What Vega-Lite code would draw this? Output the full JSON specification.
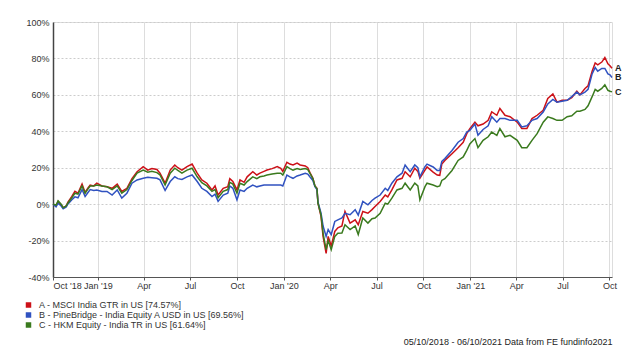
{
  "$schema": "https://vega.github.io/schema/vega-lite/v6.json",
  "width": 559,
  "height": 255,
  "autosize": "none",
  "padding": {"left": 53, "top": 22, "right": 28, "bottom": 83},
  "background": "white",
  "config": {"view": {"stroke": "#dddddd"}, "font": "Liberation Sans"},
  "data": {
    "format": {"parse": {"d": "date:'%Y-%m-%d'"}},
    "values": [
      {"d": "2018-10-05", "A": 0, "B": 0, "C": 0},
      {"d": "2018-10-11", "A": -1, "B": -1.5, "C": -0.5},
      {"d": "2018-10-15", "A": 1.5, "B": 0.5, "C": 1.8},
      {"d": "2018-10-21", "A": -0.5, "B": -1, "C": 0},
      {"d": "2018-10-25", "A": -2, "B": -2.5, "C": -2},
      {"d": "2018-10-31", "A": -1, "B": -1.5, "C": -1},
      {"d": "2018-11-03", "A": 1, "B": 0, "C": 0.5},
      {"d": "2018-11-11", "A": 4.2, "B": 2.4, "C": 3.5},
      {"d": "2018-11-17", "A": 7, "B": 4, "C": 6},
      {"d": "2018-11-23", "A": 6, "B": 3.5, "C": 5.5},
      {"d": "2018-12-01", "A": 11, "B": 8, "C": 10},
      {"d": "2018-12-07", "A": 6.4, "B": 4.2, "C": 6},
      {"d": "2018-12-13", "A": 9, "B": 6.5, "C": 8.5},
      {"d": "2018-12-17", "A": 10.5, "B": 8, "C": 10},
      {"d": "2018-12-24", "A": 10, "B": 7.5, "C": 10},
      {"d": "2018-12-30", "A": 11.5, "B": 7.8, "C": 10.5},
      {"d": "2019-01-09", "A": 10, "B": 7, "C": 10},
      {"d": "2019-01-19", "A": 9.6, "B": 7, "C": 9.5},
      {"d": "2019-01-29", "A": 8.7, "B": 5, "C": 8},
      {"d": "2019-02-08", "A": 11, "B": 7.8, "C": 10},
      {"d": "2019-02-17", "A": 7, "B": 3.3, "C": 6},
      {"d": "2019-02-27", "A": 8.7, "B": 6, "C": 8},
      {"d": "2019-03-09", "A": 14, "B": 11.5, "C": 13},
      {"d": "2019-03-19", "A": 17.8, "B": 13.3, "C": 17},
      {"d": "2019-03-31", "A": 20.6, "B": 14.2, "C": 18.7},
      {"d": "2019-04-09", "A": 18.7, "B": 14.7, "C": 17.5},
      {"d": "2019-04-17", "A": 19.5, "B": 14.5, "C": 18},
      {"d": "2019-04-27", "A": 19, "B": 14.2, "C": 17.3},
      {"d": "2019-05-03", "A": 17, "B": 13.3, "C": 16},
      {"d": "2019-05-13", "A": 11.5, "B": 7.5, "C": 10.5},
      {"d": "2019-05-23", "A": 18.7, "B": 12.4, "C": 17},
      {"d": "2019-06-01", "A": 21.5, "B": 15, "C": 19.7},
      {"d": "2019-06-07", "A": 20, "B": 14, "C": 18.5},
      {"d": "2019-06-15", "A": 18.7, "B": 13.6, "C": 17},
      {"d": "2019-06-25", "A": 20.6, "B": 15, "C": 18.7},
      {"d": "2019-07-05", "A": 22, "B": 16, "C": 19.7},
      {"d": "2019-07-15", "A": 17, "B": 12.4, "C": 15},
      {"d": "2019-07-24", "A": 13.3, "B": 8.7, "C": 11.8},
      {"d": "2019-08-03", "A": 11.5, "B": 7, "C": 10},
      {"d": "2019-08-13", "A": 7.8, "B": 4.2, "C": 7},
      {"d": "2019-08-19", "A": 10, "B": 5.5, "C": 8},
      {"d": "2019-08-25", "A": 5, "B": 1.5, "C": 3.5},
      {"d": "2019-09-04", "A": 8.7, "B": 5, "C": 7},
      {"d": "2019-09-13", "A": 9.6, "B": 6, "C": 8},
      {"d": "2019-09-17", "A": 14, "B": 10, "C": 12},
      {"d": "2019-09-23", "A": 12.4, "B": 8.7, "C": 11},
      {"d": "2019-10-01", "A": 7.8, "B": 2.4, "C": 6},
      {"d": "2019-10-07", "A": 13.3, "B": 7.8, "C": 11.5},
      {"d": "2019-10-15", "A": 12, "B": 7, "C": 10.5},
      {"d": "2019-10-21", "A": 15, "B": 8.7, "C": 12.4},
      {"d": "2019-11-01", "A": 17.8, "B": 10.5, "C": 15},
      {"d": "2019-11-09", "A": 16, "B": 9.5, "C": 14},
      {"d": "2019-11-15", "A": 17, "B": 10, "C": 15},
      {"d": "2019-11-23", "A": 18, "B": 10.5, "C": 15.5},
      {"d": "2019-11-29", "A": 18.7, "B": 10.5, "C": 16},
      {"d": "2019-12-09", "A": 19.5, "B": 10.5, "C": 16.5},
      {"d": "2019-12-19", "A": 20.6, "B": 10.5, "C": 17},
      {"d": "2019-12-26", "A": 19.7, "B": 10.5, "C": 17},
      {"d": "2019-12-30", "A": 18, "B": 10, "C": 16},
      {"d": "2020-01-07", "A": 23, "B": 16, "C": 20.6},
      {"d": "2020-01-13", "A": 22, "B": 15, "C": 19.5},
      {"d": "2020-01-19", "A": 21.5, "B": 14.2, "C": 18.7},
      {"d": "2020-01-27", "A": 22.5, "B": 15.5, "C": 19.5},
      {"d": "2020-02-02", "A": 21.5, "B": 16, "C": 19},
      {"d": "2020-02-12", "A": 21, "B": 17, "C": 19.5},
      {"d": "2020-02-17", "A": 20, "B": 16.5, "C": 19},
      {"d": "2020-02-21", "A": 17.5, "B": 15, "C": 17},
      {"d": "2020-02-27", "A": 14.2, "B": 13, "C": 14},
      {"d": "2020-03-02", "A": 10, "B": 9.6, "C": 10},
      {"d": "2020-03-06", "A": 8.7, "B": 8, "C": 8.5},
      {"d": "2020-03-08", "A": 0.5, "B": 1, "C": 0.5},
      {"d": "2020-03-14", "A": -6.7, "B": -5, "C": -6},
      {"d": "2020-03-18", "A": -17.7, "B": -12, "C": -16},
      {"d": "2020-03-24", "A": -27, "B": -17.7, "C": -25},
      {"d": "2020-03-28", "A": -17.7, "B": -14, "C": -20},
      {"d": "2020-04-03", "A": -23, "B": -16.7, "C": -25},
      {"d": "2020-04-10", "A": -15, "B": -9.5, "C": -17.7},
      {"d": "2020-04-16", "A": -13, "B": -8.6, "C": -16},
      {"d": "2020-04-24", "A": -12, "B": -7.6, "C": -15.8},
      {"d": "2020-04-30", "A": -4, "B": -5, "C": -11.3},
      {"d": "2020-05-10", "A": -10.4, "B": -5.8, "C": -14},
      {"d": "2020-05-20", "A": -8.6, "B": -3, "C": -12},
      {"d": "2020-05-26", "A": -11.3, "B": -6, "C": -16.7},
      {"d": "2020-06-04", "A": -4, "B": 1.5, "C": -7.6},
      {"d": "2020-06-14", "A": -5, "B": -0.4, "C": -10.4},
      {"d": "2020-06-22", "A": -3, "B": 2, "C": -8},
      {"d": "2020-06-28", "A": -1.3, "B": 3.3, "C": -7.6},
      {"d": "2020-07-08", "A": 1.5, "B": 5, "C": -5},
      {"d": "2020-07-18", "A": 5, "B": 8.7, "C": 0.5},
      {"d": "2020-07-23", "A": 4, "B": 7.5, "C": 0},
      {"d": "2020-07-31", "A": 7.8, "B": 11.5, "C": 3.3},
      {"d": "2020-08-10", "A": 13.3, "B": 15, "C": 7.8},
      {"d": "2020-08-20", "A": 14.2, "B": 17, "C": 8.7},
      {"d": "2020-08-26", "A": 17.8, "B": 21.5, "C": 11.5},
      {"d": "2020-09-05", "A": 15, "B": 17.8, "C": 7.8},
      {"d": "2020-09-14", "A": 19.7, "B": 21.5, "C": 11.5},
      {"d": "2020-09-20", "A": 18, "B": 20, "C": 10},
      {"d": "2020-09-24", "A": 14.2, "B": 15, "C": 2.4},
      {"d": "2020-10-04", "A": 18.7, "B": 20.6, "C": 9.6},
      {"d": "2020-10-08", "A": 20.4, "B": 22, "C": 11.5},
      {"d": "2020-10-20", "A": 17.6, "B": 20.4, "C": 10.5},
      {"d": "2020-10-28", "A": 16, "B": 18.5, "C": 9.6},
      {"d": "2020-11-02", "A": 15.8, "B": 18.5, "C": 10},
      {"d": "2020-11-06", "A": 22, "B": 23.5, "C": 13},
      {"d": "2020-11-12", "A": 24, "B": 25, "C": 14},
      {"d": "2020-11-26", "A": 27.7, "B": 29.5, "C": 18.5},
      {"d": "2020-12-08", "A": 31, "B": 34, "C": 24},
      {"d": "2020-12-18", "A": 34, "B": 36, "C": 25.9},
      {"d": "2020-12-25", "A": 38.7, "B": 39.6, "C": 29.5},
      {"d": "2020-12-31", "A": 41.5, "B": 40.5, "C": 33},
      {"d": "2021-01-10", "A": 45, "B": 44, "C": 36},
      {"d": "2021-01-16", "A": 43, "B": 37.8, "C": 31},
      {"d": "2021-01-26", "A": 44, "B": 41, "C": 35},
      {"d": "2021-02-05", "A": 46, "B": 43, "C": 37},
      {"d": "2021-02-12", "A": 50.6, "B": 48, "C": 39.6},
      {"d": "2021-02-22", "A": 48.8, "B": 45, "C": 37.8},
      {"d": "2021-02-28", "A": 52.5, "B": 47, "C": 41.5},
      {"d": "2021-03-10", "A": 48.8, "B": 47, "C": 37},
      {"d": "2021-03-20", "A": 48, "B": 46, "C": 37.8},
      {"d": "2021-04-03", "A": 45, "B": 46, "C": 35},
      {"d": "2021-04-12", "A": 41.5, "B": 42.4, "C": 31},
      {"d": "2021-04-22", "A": 41.5, "B": 43, "C": 31},
      {"d": "2021-05-02", "A": 47, "B": 46, "C": 35},
      {"d": "2021-05-12", "A": 48.8, "B": 47, "C": 38.7},
      {"d": "2021-05-24", "A": 51.5, "B": 50.6, "C": 45},
      {"d": "2021-06-02", "A": 58, "B": 55, "C": 47.9},
      {"d": "2021-06-12", "A": 60.5, "B": 57.5, "C": 47},
      {"d": "2021-06-20", "A": 56, "B": 56, "C": 46},
      {"d": "2021-06-30", "A": 57, "B": 56.5, "C": 46},
      {"d": "2021-07-10", "A": 57, "B": 57, "C": 48},
      {"d": "2021-07-19", "A": 58.5, "B": 59, "C": 48.5},
      {"d": "2021-07-29", "A": 62, "B": 61.5, "C": 51},
      {"d": "2021-08-04", "A": 60, "B": 60, "C": 51},
      {"d": "2021-08-14", "A": 63.5, "B": 61.5, "C": 52},
      {"d": "2021-08-20", "A": 65, "B": 63, "C": 54},
      {"d": "2021-08-28", "A": 73, "B": 71.5, "C": 59},
      {"d": "2021-09-03", "A": 77.5, "B": 75, "C": 63},
      {"d": "2021-09-08", "A": 76.5, "B": 73, "C": 62},
      {"d": "2021-09-16", "A": 78, "B": 74.5, "C": 63.5},
      {"d": "2021-09-22", "A": 80.5, "B": 74.5, "C": 65.5},
      {"d": "2021-09-28", "A": 77, "B": 71.5, "C": 62.5},
      {"d": "2021-10-02", "A": 76, "B": 71, "C": 62},
      {"d": "2021-10-06", "A": 74.57, "B": 69.56, "C": 61.64}
    ]
  },
  "encoding": {
    "x": {
      "field": "d", "type": "temporal",
      "scale": {"domain": [{"year": 2018, "month": 10, "date": 5}, {"year": 2021, "month": 10, "date": 6}]},
      "axis": {
        "title": "05/10/2018 - 06/10/2021 Data from FE fundinfo2021",
        "titleFontSize": 9, "titleFontWeight": "normal", "titleColor": "#222222",
        "titleAnchor": "end", "titleAlign": "right", "titleBaseline": "top", "titlePadding": 47,
        "values": [
          {"year": 2018, "month": 10, "date": 5},
          {"year": 2019, "month": 1, "date": 1},
          {"year": 2019, "month": 4, "date": 1},
          {"year": 2019, "month": 7, "date": 1},
          {"year": 2019, "month": 10, "date": 1},
          {"year": 2020, "month": 1, "date": 1},
          {"year": 2020, "month": 4, "date": 1},
          {"year": 2020, "month": 7, "date": 1},
          {"year": 2020, "month": 10, "date": 1},
          {"year": 2021, "month": 1, "date": 1},
          {"year": 2021, "month": 4, "date": 1},
          {"year": 2021, "month": 7, "date": 1},
          {"year": 2021, "month": 10, "date": 1}
        ],
        "labelExpr": "(month(datum.value) == 0 || year(datum.value) == 2018) ? timeFormat(datum.value, \"%b '%y\") : timeFormat(datum.value, '%b')",
        "grid": true, "gridColor": "#dddddd", "gridWidth": 1,
        "domainColor": "#555555", "tickColor": "#555555", "tickSize": 3,
        "labelFontSize": 9, "labelColor": "#333333", "labelPadding": 1
      }
    },
    "y": {
      "field": "v", "type": "quantitative",
      "scale": {"domain": [-40, 100], "nice": false, "zero": false},
      "axis": {
        "title": null,
        "values": [-40, -20, 0, 20, 40, 60, 80, 100],
        "labelExpr": "datum.value + '%'",
        "grid": true, "gridDash": [2, 2], "gridColor": "#cccccc",
        "ticks": false, "domainColor": "#444444", "domainWidth": 1.5,
        "labelFontSize": 9, "labelColor": "#333333", "labelPadding": 4
      }
    }
  },
  "layer": [
    {
      "data": {"values": [{}]},
      "mark": {"type": "rule", "color": "#222222", "strokeDash": [2, 2], "strokeWidth": 1},
      "encoding": {"x": null, "y": {"datum": 0, "type": "quantitative"}}
    },
    {
      "transform": [{"fold": ["A", "B", "C"], "as": ["k", "v"]}],
      "mark": {"type": "line", "strokeWidth": 1.5},
      "encoding": {
        "color": {
          "field": "k", "type": "nominal",
          "scale": {"domain": ["A", "B", "C"], "range": ["#cc1118", "#3052c0", "#3a7a1e"]},
          "legend": {
            "orient": "none", "legendX": -30, "legendY": 278, "title": null,
            "symbolType": "stroke", "symbolSize": 30, "symbolStrokeWidth": 5.5,
            "clipHeight": 10, "labelLimit": 400,
            "labelFontSize": 9, "labelColor": "#333333", "labelOffset": 5, "rowPadding": 0,
            "labelExpr": "datum.label == 'A' ? 'A - MSCI India GTR in US [74.57%]' : datum.label == 'B' ? 'B - PineBridge - India Equity A USD in US [69.56%]' : 'C - HKM Equity - India TR in US [61.64%]'"
          }
        }
      }
    },
    {
      "transform": [
        {"fold": ["A", "B", "C"], "as": ["k", "v"]},
        {"filter": "time(datum.d) >= time(datetime(2021, 9, 6))"}
      ],
      "mark": {"type": "text", "align": "left", "baseline": "middle", "dx": 3, "fontSize": 9, "fontWeight": "bold", "color": "#222222"},
      "encoding": {"text": {"field": "k"}}
    }
  ]
}
